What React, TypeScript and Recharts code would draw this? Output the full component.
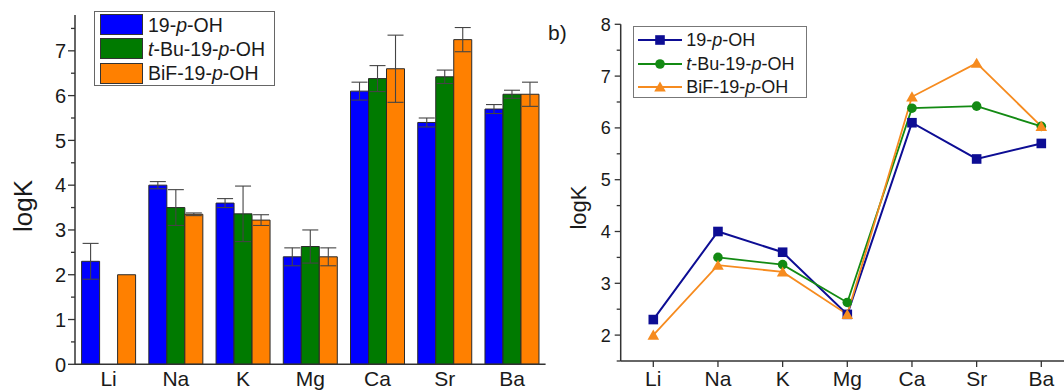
import { BarChart, Bar, LineChart, Line, XAxis, YAxis, ErrorBar } from 'recharts';

// metal ions on the x axis
const ions = ['Li', 'Na', 'K', 'Mg', 'Ca', 'Sr', 'Ba'];

// logK values per ligand (null = not measured)
const logK19 = [2.3, 4.0, 3.6, 2.4, 6.1, 5.4, 5.7];
const logKtBu = [null, 3.5, 3.36, 2.63, 6.38, 6.42, 6.03];
const logKBiF = [2.0, 3.35, 3.22, 2.4, 6.6, 7.25, 6.03];

// error bars (half width)
const err19 = [0.4, 0.08, 0.1, 0.2, 0.2, 0.1, 0.1];
const errTBu = [null, 0.4, 0.62, 0.37, 0.29, 0.15, 0.09];
const errBiF = [null, 0.03, 0.12, 0.2, 0.75, 0.27, 0.27];

const seriesNames = ['19-p-OH', 't-Bu-19-p-OH', 'BiF-19-p-OH'];

const leftTicks = [0, 0.5, 1, 1.5, 2, 2.5, 3, 3.5, 4, 4.5, 5, 5.5, 6, 6.5, 7, 7.5];
const rightTicks = [1.5, 2, 2.5, 3, 3.5, 4, 4.5, 5, 5.5, 6, 6.5, 7, 7.5, 8];

const table = ions.map((ion, i) => ({
  ion,
  a: logK19[i],
  aErr: err19[i],
  b: logKtBu[i],
  bErr: errTBu[i],
  c: logKBiF[i],
  cErr: errBiF[i],
}));

const barFill = ['#0000ff', '#007a00', '#ff8000'];
const lineColor = ['#0d0d94', '#138a13', '#f68b1f'];
const axisColor = '#333';
const textColor = '#1a1a1a';

function Name({ s }: { s: string }) {
  const parts = s.split('-');
  return (
    <>
      {parts.map((p, i) => (
        <span key={i}>
          {p === 'p' || p === 't' ? <i>{p}</i> : p}
          {i < parts.length - 1 ? '-' : ''}
        </span>
      ))}
    </>
  );
}

// y ticks: long tick + label on whole numbers, short tick on halves
function makeTick(tickSize: number, tickMargin: number, fontSize: number) {
  return (props: any) => {
    const { x, y, payload } = props;
    const ax = x + tickSize + tickMargin;
    const v = payload.value;
    const major = Math.abs(v - Math.round(v)) < 1e-6;
    return (
      <g>
        <line x1={ax - (major ? tickSize : 4)} x2={ax} y1={y} y2={y} stroke={axisColor} strokeWidth={1.3} />
        {major && (
          <text x={x} y={y} dy="0.36em" textAnchor="end" fontSize={fontSize} fill={textColor}>
            {v}
          </text>
        )}
      </g>
    );
  };
}

const yTitle = (x: number, y: number, size: number) => () => (
  <text x={x} y={y} transform={`rotate(-90 ${x} ${y})`} textAnchor="middle" fontSize={size} fill={textColor}>
    logK
  </text>
);

const SquareDot = (p: any) => {
  if (p.cx == null || p.cy == null || p.value == null) return <g key={p.key} />;
  return <rect key={p.key} x={p.cx - 4.8} y={p.cy - 4.8} width={9.6} height={9.6} fill={lineColor[0]} />;
};
const CircleDot = (p: any) => {
  if (p.cx == null || p.cy == null || p.value == null) return <g key={p.key} />;
  return <circle key={p.key} cx={p.cx} cy={p.cy} r={4.8} fill={lineColor[1]} />;
};
const TriangleDot = (p: any) => {
  if (p.cx == null || p.cy == null || p.value == null) return <g key={p.key} />;
  const { cx, cy } = p;
  return <polygon key={p.key} points={`${cx},${cy - 5.5} ${cx + 5.8},${cy + 4.6} ${cx - 5.8},${cy + 4.6}`} fill={lineColor[2]} />;
};

function LegendMarker({ i }: { i: number }) {
  return (
    <svg width={44} height={14}>
      <line x1={0} x2={44} y1={7} y2={7} stroke={lineColor[i]} strokeWidth={2} />
      {i === 0 && <rect x={17.2} y={2.2} width={9.6} height={9.6} fill={lineColor[0]} />}
      {i === 1 && <circle cx={22} cy={7} r={4.8} fill={lineColor[1]} />}
      {i === 2 && <polygon points="22,1.5 27.8,11.6 16.2,11.6" fill={lineColor[2]} />}
    </svg>
  );
}

export default function App() {
  return (
    <div
      style={{
        position: 'absolute',
        left: 0,
        top: 0,
        width: 1064,
        height: 391,
        overflow: 'hidden',
        background: '#fff',
        fontFamily: '"Liberation Sans", Arial, sans-serif',
        color: textColor,
      }}
    >
      <div style={{ position: 'absolute', left: 0, top: 0 }}>
        <BarChart
          width={560}
          height={391}
          data={table}
          margin={{ top: 15, right: 14.4, bottom: 0, left: 25 }}
          barCategoryGap={6.6}
          barGap={0}
        >
          <XAxis
            dataKey="ion"
            tickLine={false}
            tickSize={6}
            tickMargin={1}
            height={26.7}
            interval={0}
            axisLine={{ stroke: axisColor, strokeWidth: 1.5 }}
            tick={{ fontSize: 21, fill: textColor }}
          />
          <YAxis
            domain={[0, 7.8]}
            ticks={leftTicks}
            interval={0}
            width={50}
            tickLine={false}
            tickSize={7}
            tickMargin={2}
            tick={makeTick(7, 2, 20)}
            axisLine={{ stroke: axisColor, strokeWidth: 1.5 }}
            label={yTitle(32, 206, 26)}
          />
          <Bar dataKey="a" fill={barFill[0]} stroke="#2a2a2a" strokeWidth={1} isAnimationActive={false}>
            <ErrorBar dataKey="aErr" width={8} stroke="#444" strokeWidth={1.1} direction="y" />
          </Bar>
          <Bar dataKey="b" fill={barFill[1]} stroke="#2a2a2a" strokeWidth={1} isAnimationActive={false}>
            <ErrorBar dataKey="bErr" width={8} stroke="#444" strokeWidth={1.1} direction="y" />
          </Bar>
          <Bar dataKey="c" fill={barFill[2]} stroke="#2a2a2a" strokeWidth={1} isAnimationActive={false}>
            <ErrorBar dataKey="cErr" width={8} stroke="#444" strokeWidth={1.1} direction="y" />
          </Bar>
        </BarChart>
      </div>

      <div
        style={{
          position: 'absolute',
          left: 94,
          top: 11,
          width: 181,
          height: 75,
          border: '1px solid #666',
          boxSizing: 'border-box',
          background: '#fff',
        }}
      >
        {seriesNames.map((s, i) => (
          <div
            key={s}
            style={{ position: 'absolute', left: 5, top: 1.5 + i * 24.3, height: 22, display: 'flex', alignItems: 'center' }}
          >
            <div style={{ width: 43, height: 21, background: barFill[i], border: '1px solid #333', boxSizing: 'border-box' }} />
            <span style={{ marginLeft: 5, fontSize: 19.5, lineHeight: '22px', whiteSpace: 'nowrap' }}>
              <Name s={s} />
            </span>
          </div>
        ))}
      </div>

      <div style={{ position: 'absolute', left: 540, top: 0 }}>
        <LineChart width={524} height={391} data={table} margin={{ top: 24.3, right: 0, bottom: 0, left: 30.7 }}>
          <XAxis
            dataKey="ion"
            padding={{ left: 32.6, right: 22.7 }}
            tickSize={6}
            tickMargin={4}
            height={30}
            interval={0}
            axisLine={{ stroke: axisColor, strokeWidth: 1.5 }}
            tickLine={{ stroke: axisColor, strokeWidth: 1.3 }}
            tick={{ fontSize: 21, fill: textColor }}
          />
          <YAxis
            domain={[1.5, 8]}
            ticks={rightTicks}
            interval={0}
            width={50}
            tickLine={false}
            tickSize={6}
            tickMargin={4}
            tick={makeTick(6, 4, 18)}
            axisLine={{ stroke: axisColor, strokeWidth: 1.5 }}
            label={yTitle(45.5, 207.5, 22)}
          />
          <Line dataKey="a" stroke={lineColor[0]} strokeWidth={2} dot={SquareDot} activeDot={false} isAnimationActive={false} />
          <Line dataKey="b" stroke={lineColor[1]} strokeWidth={1.8} dot={CircleDot} activeDot={false} isAnimationActive={false} />
          <Line dataKey="c" stroke={lineColor[2]} strokeWidth={1.8} dot={TriangleDot} activeDot={false} isAnimationActive={false} />
        </LineChart>
      </div>

      <div style={{ position: 'absolute', left: 548, top: 22, fontSize: 21, lineHeight: 1 }}>b)</div>

      <div
        style={{
          position: 'absolute',
          left: 633.3,
          top: 25.7,
          width: 173.4,
          height: 72,
          border: '1px solid #777',
          boxSizing: 'border-box',
          background: '#fff',
        }}
      >
        {seriesNames.map((s, i) => (
          <div
            key={s}
            style={{ position: 'absolute', left: 4, top: 2.6 + i * 23.4, height: 22, display: 'flex', alignItems: 'center' }}
          >
            <LegendMarker i={i} />
            <span style={{ marginLeft: 4, fontSize: 18, lineHeight: '22px', whiteSpace: 'nowrap' }}>
              <Name s={s} />
            </span>
          </div>
        ))}
      </div>
    </div>
  );
}
